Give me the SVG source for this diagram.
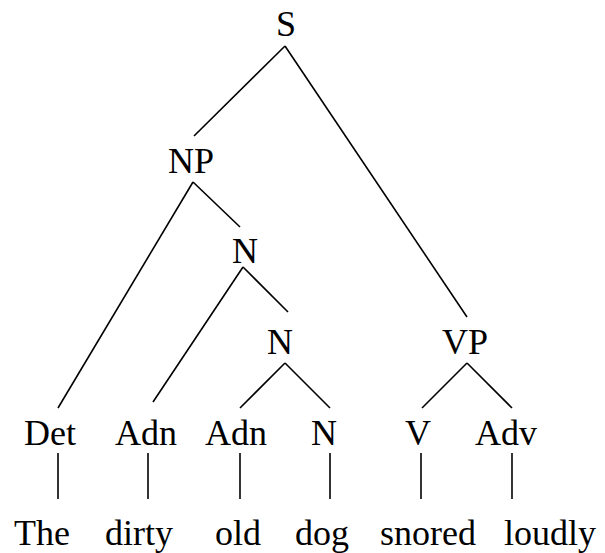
<svg xmlns="http://www.w3.org/2000/svg" width="605" height="553" viewBox="0 0 605 553">
<style>
text{font-family:"Liberation Serif","Times New Roman",serif;font-size:36px;fill:#000;text-anchor:middle}
.e line{stroke:#000;stroke-width:1.6;fill:none}
</style>
<rect width="605" height="553" fill="#fff"/>
<g class="e" id="connectors">
<line x1="285" y1="46" x2="194" y2="136"/>
<line x1="285" y1="46" x2="467" y2="317"/>
<line x1="193" y1="182" x2="58" y2="408"/>
<line x1="193" y1="182" x2="240" y2="227"/>
<line x1="243" y1="267" x2="153" y2="402"/>
<line x1="243" y1="267" x2="288" y2="312"/>
<line x1="285" y1="363" x2="240" y2="408"/>
<line x1="285" y1="363" x2="330" y2="408"/>
<line x1="467" y1="363" x2="422" y2="408"/>
<line x1="467" y1="363" x2="512" y2="408"/>
<line x1="58" y1="453" x2="58" y2="499"/>
<line x1="148" y1="453" x2="148" y2="499"/>
<line x1="240" y1="453" x2="240" y2="499"/>
<line x1="330" y1="453" x2="330" y2="499"/>
<line x1="421" y1="453" x2="421" y2="499"/>
<line x1="512" y1="453" x2="512" y2="499"/>
</g>
<g id="S"><text x="286" y="36">S</text></g>
<g id="NP"><text x="191" y="173">NP</text></g>
<g id="N1"><text x="245" y="263">N</text></g>
<g id="N2"><text x="280" y="354">N</text></g>
<g id="VP"><text x="465" y="354">VP</text></g>
<g id="Det"><text x="50" y="445">Det</text></g>
<g id="Adn1"><text x="146" y="445">Adn</text></g>
<g id="Adn2"><text x="236" y="445">Adn</text></g>
<g id="N3"><text x="324" y="445">N</text></g>
<g id="V"><text x="418" y="445">V</text></g>
<g id="Adv"><text x="506" y="445">Adv</text></g>
<g id="w-the"><text x="42" y="545">The</text></g>
<g id="w-dirty"><text x="139" y="545">dirty</text></g>
<g id="w-old"><text x="238" y="545">old</text></g>
<g id="w-dog"><text x="322" y="545">dog</text></g>
<g id="w-snored"><text x="428" y="545">snored</text></g>
<g id="w-loudly"><text x="550" y="545">loudly</text></g>
</svg>
